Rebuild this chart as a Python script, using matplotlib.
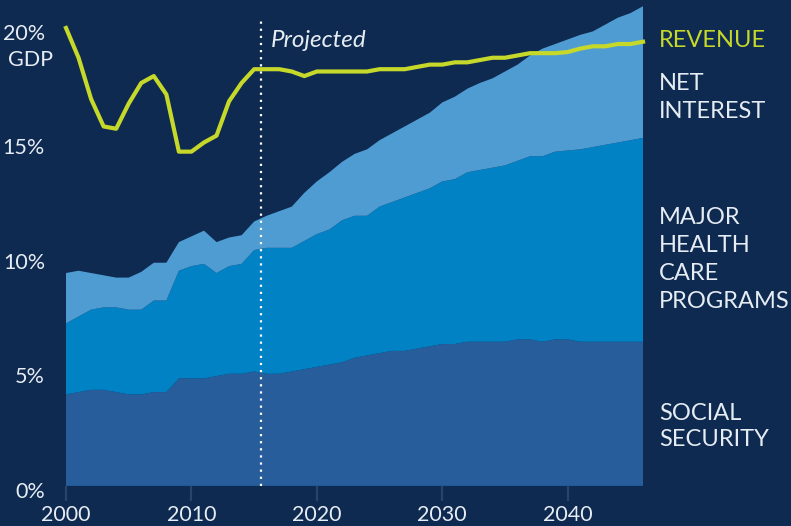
import numpy as np
import matplotlib
matplotlib.use("Agg")
import matplotlib.pyplot as plt
from matplotlib.transforms import offset_copy

plt.rcParams['font.family'] = ['Lato', 'DejaVu Sans']

# values in % of GDP
years = np.arange(2000, 2047)
social_security = [4.0, 4.1, 4.2, 4.2, 4.1, 4.0, 4.0, 4.1, 4.1, 4.7,
                   4.7, 4.7, 4.8, 4.9, 4.9, 5.0, 4.9, 4.9, 5.0, 5.1,
                   5.2, 5.3, 5.4, 5.6, 5.7, 5.8, 5.9, 5.9, 6.0, 6.1,
                   6.2, 6.2, 6.3, 6.3, 6.3, 6.3, 6.4, 6.4, 6.3, 6.4,
                   6.4, 6.3, 6.3, 6.3, 6.3, 6.3, 6.3]
health = [3.1, 3.3, 3.5, 3.6, 3.7, 3.7, 3.7, 4.0, 4.0, 4.7,
          4.9, 5.0, 4.5, 4.7, 4.8, 5.3, 5.5, 5.5, 5.4, 5.6,
          5.8, 5.9, 6.2, 6.2, 6.1, 6.4, 6.5, 6.7, 6.8, 6.9,
          7.1, 7.2, 7.4, 7.5, 7.6, 7.7, 7.8, 8.0, 8.1, 8.2,
          8.25, 8.4, 8.5, 8.6, 8.7, 8.8, 8.9]
net_interest = [2.2, 2.0, 1.6, 1.4, 1.3, 1.4, 1.65, 1.65, 1.65, 1.25,
                1.3, 1.45, 1.35, 1.25, 1.25, 1.25, 1.4, 1.6, 1.8, 2.1,
                2.3, 2.5, 2.55, 2.7, 2.9, 2.9, 3.0, 3.1, 3.2, 3.3,
                3.45, 3.6, 3.65, 3.8, 3.9, 4.1, 4.2, 4.4, 4.7, 4.7,
                4.85, 5.0, 5.05, 5.25, 5.45, 5.55, 5.75]
revenue = [20.0, 18.7, 16.9, 15.7, 15.6, 16.7, 17.6, 17.9, 17.1, 14.6,
           14.6, 15.0, 15.3, 16.8, 17.6, 18.2, 18.2, 18.2, 18.1, 17.9,
           18.1, 18.1, 18.1, 18.1, 18.1, 18.2, 18.2, 18.2, 18.3, 18.4,
           18.4, 18.5, 18.5, 18.6, 18.7, 18.7, 18.8, 18.9, 18.9, 18.9,
           18.95, 19.1, 19.2, 19.2, 19.3, 19.3, 19.4]
projected_from = 2015.55
xtick_years = [2000, 2010, 2020, 2030, 2040]
ytick_vals = [0, 5, 10, 15, 20]
ytick_labels = ["0%", "5%", "10%", "15%", "20%"]

bg = '#0e2a50'
c_ss = '#285d9c'
c_health = '#0082c5'
c_int = '#4f9cd3'
c_rev = '#c6d92a'
c_txt = '#e6ecf3'

fig = plt.figure(figsize=(7.91, 5.26), dpi=100, facecolor=bg)
ax = fig.add_axes([66/791, 40/526, 577/791, 485.5/526])
ax.set_facecolor(bg)

ax.stackplot(years, social_security, health, net_interest,
             colors=[c_ss, c_health, c_int], linewidth=0, antialiased=True)
ax.axhline(0, color='#1f5894', lw=1.2)
ax.plot(years, revenue, color=c_rev, lw=3, clip_on=False, zorder=5)
ax.plot([projected_from, projected_from], [0, 20.35], color='white',
        lw=1.6, linestyle=(0, (1, 2.2)), zorder=4, clip_on=False)
ax.text(projected_from + 0.75, 19.45, "Projected", color=c_txt, fontsize=17.5,
        style='italic', va='center', ha='left')

ax.set_xlim(2000, 2046)
ax.set_ylim(0, 21.2)
for s in ax.spines.values():
    s.set_visible(False)
ax.set_yticks([])
ax.set_xticks(xtick_years)
ax.set_xticklabels([str(y) for y in xtick_years])
ax.tick_params(axis='x', length=11, width=1.6, color='#2a4369',
               labelsize=15.5, labelcolor=c_txt, pad=3)

# y labels sit a little below their value
trans = offset_copy(ax.get_yaxis_transform(), fig=fig, y=-6, units='dots')
for v, lab in zip(ytick_vals, ytick_labels):
    ax.text(-21/577, v, lab, transform=trans, ha='right', va='center',
            fontsize=15.5, color=c_txt)
fig.text(8/791, 1 - 60/526, "GDP", ha='left', va='center', fontsize=15.5, color=c_txt)

# series labels on the right
labels = [("REVENUE", 40.5, c_rev),
          ("NET", 84, c_txt), ("INTEREST", 111, c_txt),
          ("MAJOR", 218, c_txt), ("HEALTH", 246, c_txt), ("CARE", 274, c_txt),
          ("PROGRAMS", 302, c_txt),
          ("SOCIAL", 413, c_txt), ("SECURITY", 440, c_txt)]
for t, ypix, col in labels:
    fig.text(659/791, 1 - ypix/526, t, ha='left', va='center',
             fontsize=17, color=col)

fig.savefig("out.png", dpi=100, facecolor=bg)
